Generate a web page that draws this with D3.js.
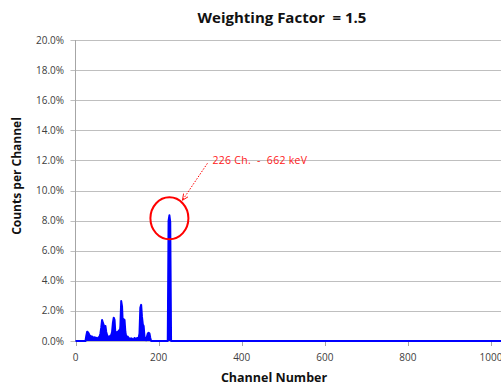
<!DOCTYPE html>
<html>
<head>
<meta charset="utf-8">
<script src="https://cdn.jsdelivr.net/npm/d3@7"></script>
<style>
  body { margin: 0; background: #fff; }
  svg { display: block; font-family: "Open Sans", "Noto Sans", sans-serif; }
</style>
</head>
<body>
<div id="chart"></div>
<script>
// spectrum data: channel number and counts per channel (%)
const channels = [0, 24, 26, 28, 30, 32, 34, 36, 38, 40, 42, 44, 46, 48, 50, 52, 54, 56, 58, 60,
  62, 64, 66, 68, 70, 72, 74, 76, 78, 80, 82, 84, 86, 88, 90, 92, 94, 96, 98, 100,
  102, 104, 106, 108, 110, 112, 114, 116, 118, 120, 122, 124, 126, 128, 130, 132, 134, 136, 138, 140,
  142, 144, 146, 148, 150, 152, 154, 156, 158, 160, 162, 164, 166, 168, 170, 172, 174, 176, 178, 180,
  182, 222, 224, 226, 228, 230, 1024];
const counts = [0, 0, 0.35, 0.62, 0.58, 0.5, 0.3, 0.35, 0.22, 0.3, 0.25, 0.2, 0.25, 0.2, 0.22, 0.18, 0.2, 0.25, 0.3, 0.5,
  0.9, 1.4, 1.2, 1.05, 0.75, 1.0, 0.6, 0.4, 0.3, 0.25, 0.3, 0.35, 0.4, 0.6, 1.2, 1.55, 1.4, 0.5, 0.35, 0.6,
  0.45, 0.7, 0.4, 1.0, 2.65, 2.3, 1.0, 1.45, 1.4, 0.6, 0.3, 0.3, 0.28, 0.2, 0.15, 0.12, 0.18, 0.15, 0.1, 0.1,
  0.2, 0.15, 0.12, 0.2, 0.18, 0.2, 0.5, 2.2, 2.4, 1.6, 1.1, 1.0, 0.3, 0.1, 0.05, 0.3, 0.5, 0.55, 0.5, 0.2,
  0, 0, 8.0, 8.35, 7.9, 0, 0];

const xTicks = [0, 200, 400, 600, 800, 1000];
const yTicks = [0, 2, 4, 6, 8, 10, 12, 14, 16, 18, 20];

const title = 'Weighting Factor  = 1.5';
const xTitle = 'Channel Number';
const yTitle = 'Counts per Channel';
const peakChannel = 226;
const peakValue = 8.35;
const peakLabel = '226 Ch.  -  662 keV';

const width = 501;
const height = 385;
const margin = { top: 40, left: 75.5, right: 0, bottom: 44 };

const svg = d3.select('#chart')
  .append('svg')
  .attr('width', width)
  .attr('height', height);

const xScale = d3.scaleLinear()
  .domain([0, 1024])
  .range([margin.left, width]);

const yScale = d3.scaleLinear()
  .domain([0, 20])
  .range([height - margin.bottom, margin.top]);

// horizontal grid lines
svg.append('g')
  .selectAll('line')
  .data(yTicks)
  .enter().append('line')
  .attr('x1', margin.left - 5)
  .attr('x2', width)
  .attr('y1', (d) => Math.round(yScale(d)) + 0.5)
  .attr('y2', (d) => Math.round(yScale(d)) + 0.5)
  .attr('stroke', '#bfbfbf')
  .attr('stroke-width', 1);

// y axis line
svg.append('line')
  .attr('x1', margin.left)
  .attr('x2', margin.left)
  .attr('y1', yScale(20))
  .attr('y2', yScale(0))
  .attr('stroke', '#a6a6a6');

// y tick labels
svg.append('g')
  .selectAll('text')
  .data(yTicks)
  .enter().append('text')
  .attr('x', 64)
  .attr('y', (d) => yScale(d))
  .attr('dy', '0.35em')
  .attr('text-anchor', 'end')
  .attr('font-size', 10)
  .attr('fill', '#404040')
  .text((d) => d.toFixed(1) + '%');

// x ticks and labels
const xAxisG = svg.append('g');
xAxisG.selectAll('line')
  .data(xTicks)
  .enter().append('line')
  .attr('x1', (d) => Math.round(xScale(d)) + 0.5)
  .attr('x2', (d) => Math.round(xScale(d)) + 0.5)
  .attr('y1', yScale(0))
  .attr('y2', yScale(0) + 5)
  .attr('stroke', '#a6a6a6');
xAxisG.selectAll('text')
  .data(xTicks)
  .enter().append('text')
  .attr('x', (d) => xScale(d))
  .attr('y', yScale(0) + 20)
  .attr('text-anchor', 'middle')
  .attr('font-size', 10)
  .attr('fill', '#404040')
  .text((d) => d);

// spectrum
const points = channels.map((c, i) => [c, counts[i]]);

svg.append('path')
  .datum(points)
  .attr('fill', '#0000ff')
  .attr('d', d3.area()
    .x((d) => xScale(d[0]))
    .y0(yScale(0))
    .y1((d) => yScale(d[1])));

svg.append('path')
  .datum(points)
  .attr('fill', 'none')
  .attr('stroke', '#0000ff')
  .attr('stroke-width', 2)
  .attr('stroke-linejoin', 'round')
  .attr('d', d3.line()
    .x((d) => xScale(d[0]))
    .y((d) => yScale(d[1])));

// peak annotation
const px = xScale(peakChannel);
const py = yScale(peakValue);

svg.append('ellipse')
  .attr('cx', px)
  .attr('cy', py + 3)
  .attr('rx', 19)
  .attr('ry', 21)
  .attr('fill', 'none')
  .attr('stroke', '#ff0000')
  .attr('stroke-width', 2);

svg.append('defs').append('marker')
  .attr('id', 'arrow')
  .attr('viewBox', '0 0 10 10')
  .attr('refX', 9)
  .attr('refY', 5)
  .attr('markerWidth', 7)
  .attr('markerHeight', 7)
  .attr('orient', 'auto')
  .append('path')
  .attr('d', 'M0,1 L9,5 L0,9')
  .attr('fill', 'none')
  .attr('stroke', '#ff0000')
  .attr('stroke-width', 1.2);

svg.append('line')
  .attr('x1', px + 38)
  .attr('y1', py - 52)
  .attr('x2', px + 13)
  .attr('y2', py - 15)
  .attr('stroke', '#ff0000')
  .attr('stroke-width', 1)
  .attr('stroke-dasharray', '1.5,1.5')
  .attr('marker-end', 'url(#arrow)');

svg.append('text')
  .attr('x', px + 43)
  .attr('y', py - 51)
  .attr('font-size', 10.5)
  .attr('letter-spacing', 0.3)
  .attr('fill', '#ff2020')
  .style('white-space', 'pre')
  .text(peakLabel);

// titles
svg.append('text')
  .attr('x', 282)
  .attr('y', 23)
  .attr('text-anchor', 'middle')
  .attr('font-size', 15)
  .attr('font-weight', 'bold')
  .attr('fill', '#111')
  .style('white-space', 'pre')
  .text(title);

svg.append('text')
  .attr('x', 274)
  .attr('y', 382)
  .attr('text-anchor', 'middle')
  .attr('font-size', 12.5)
  .attr('font-weight', 'bold')
  .attr('fill', '#111')
  .text(xTitle);

svg.append('text')
  .attr('transform', 'translate(21,176) rotate(-90)')
  .attr('text-anchor', 'middle')
  .attr('font-size', 12)
  .attr('font-weight', 'bold')
  .attr('fill', '#111')
  .text(yTitle);
</script>
</body>
</html>
